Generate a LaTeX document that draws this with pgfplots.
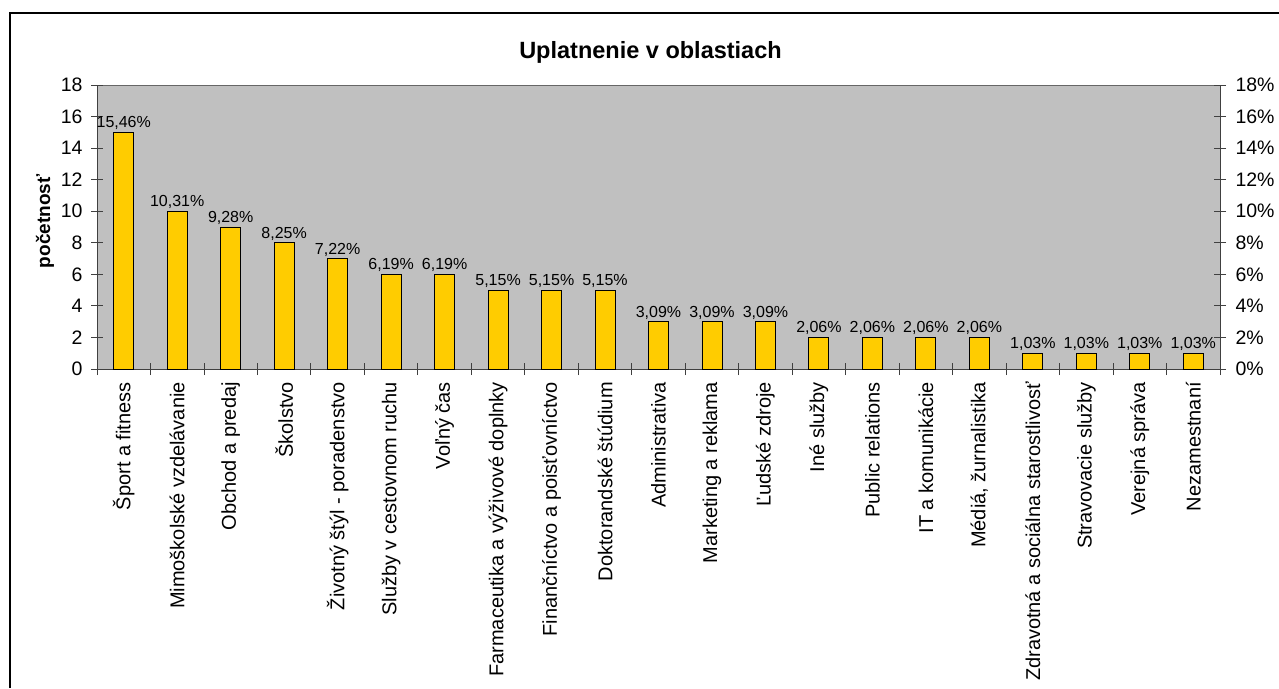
\documentclass[border=0pt]{standalone}
\usepackage{pgfplots}
\pgfplotsset{compat=1.18}
\usepackage{pgfplotstable}
\usepackage{fontspec}
\setmainfont{Liberation Sans}
\definecolor{barfill}{HTML}{FFCC00}
\definecolor{plotbg}{HTML}{C0C0C0}
\pgfplotstableread{
x y pct
0 15 15.46
1 10 10.31
2 9 9.28
3 8 8.25
4 7 7.22
5 6 6.19
6 6 6.19
7 5 5.15
8 5 5.15
9 5 5.15
10 3 3.09
11 3 3.09
12 3 3.09
13 2 2.06
14 2 2.06
15 2 2.06
16 2 2.06
17 1 1.03
18 1 1.03
19 1 1.03
20 1 1.03
}\datatable
\begin{document}
\begin{tikzpicture}
\useasboundingbox (0,0) rectangle (1279pt,688pt);
\fill[white] (0,0) rectangle (1279pt,688pt);
\draw[line width=1.6pt] (10pt,0) -- (10pt,675pt) -- (1279pt,675pt);
\begin{axis}[
  at={(97pt,319pt)}, anchor=south west,
  scale only axis, width=1123pt, height=284pt,
  xmin=-0.5, xmax=20.5, ymin=0, ymax=18,
  axis background/.style={fill=plotbg, draw=gray!80!black},
  axis x line*=bottom, axis y line*=left,
  axis line style={black!75, line width=0.9pt},
  every tick/.style={black!75, line width=0.9pt},
  tick align=center, major tick length=12pt,
  xtick={-0.5,0.5,...,20.5},
  x tick label as interval,
  xticklabels={Šport a fitness, Mimoškolské vzdelávanie, Obchod a predaj, Školstvo, Životný štýl - poradenstvo, Služby v cestovnom ruchu, Voľný čas, Farmaceutika a výživové doplnky, Finančníctvo a poisťovníctvo, Doktorandské štúdium, Administrativa, Marketing a reklama, Ľudské zdroje, Iné služby, Public relations, IT a komunikácie, {Médiá, žurnalistika}, Zdravotná a sociálna starostlivosť, Stravovacie služby, Verejná správa, Nezamestnaní},
  xticklabel style={rotate=90, anchor=east, font=\fontsize{20}{20}\selectfont, inner sep=0pt, xshift=-7pt},
  ytick={0,2,...,18},
  yticklabel style={font=\fontsize{19.5}{19.5}\selectfont, xshift=-5pt},
  /pgf/number format/assume math mode=true,
  ylabel={\textbf{početnosť}},
  ylabel style={at={(axis description cs:-0.0463,0.52)}, anchor=center, font=\fontsize{19}{19}\selectfont},
  title={\textbf{Uplatnenie v oblastiach}},
  title style={at={(axis description cs:0.5,1)}, anchor=center, yshift=27pt, xshift=-8pt, font=\fontsize{23.5}{23.5}\selectfont},
  clip=false,
]
\addplot[ybar, bar width=20pt, fill=barfill, draw=black, line width=0.9pt,
  point meta=explicit,
  nodes near coords={\pgfmathprintnumber[fixed,fixed zerofill,precision=2,use comma]{\pgfplotspointmeta}\%},
  every node near coord/.append style={font=\fontsize{16}{16}\selectfont, black, inner sep=1pt, yshift=1pt},
] table[x=x, y=y, meta=pct] {\datatable};
\end{axis}
\begin{axis}[
  at={(97pt,319pt)}, anchor=south west,
  scale only axis, width=1123pt, height=284pt,
  xmin=-0.5, xmax=20.5, ymin=0, ymax=18,
  axis x line=none, axis y line*=right,
  axis line style={black!75, line width=0.9pt},
  every tick/.style={black!75, line width=0.9pt},
  tick align=center, major tick length=12pt,
  ytick={0,2,...,18},
  yticklabel={\pgfmathprintnumber{\tick}\%},
  yticklabel style={font=\fontsize{19.5}{19.5}\selectfont, xshift=6pt},
  /pgf/number format/assume math mode=true,
]
\end{axis}
\end{tikzpicture}
\end{document}
